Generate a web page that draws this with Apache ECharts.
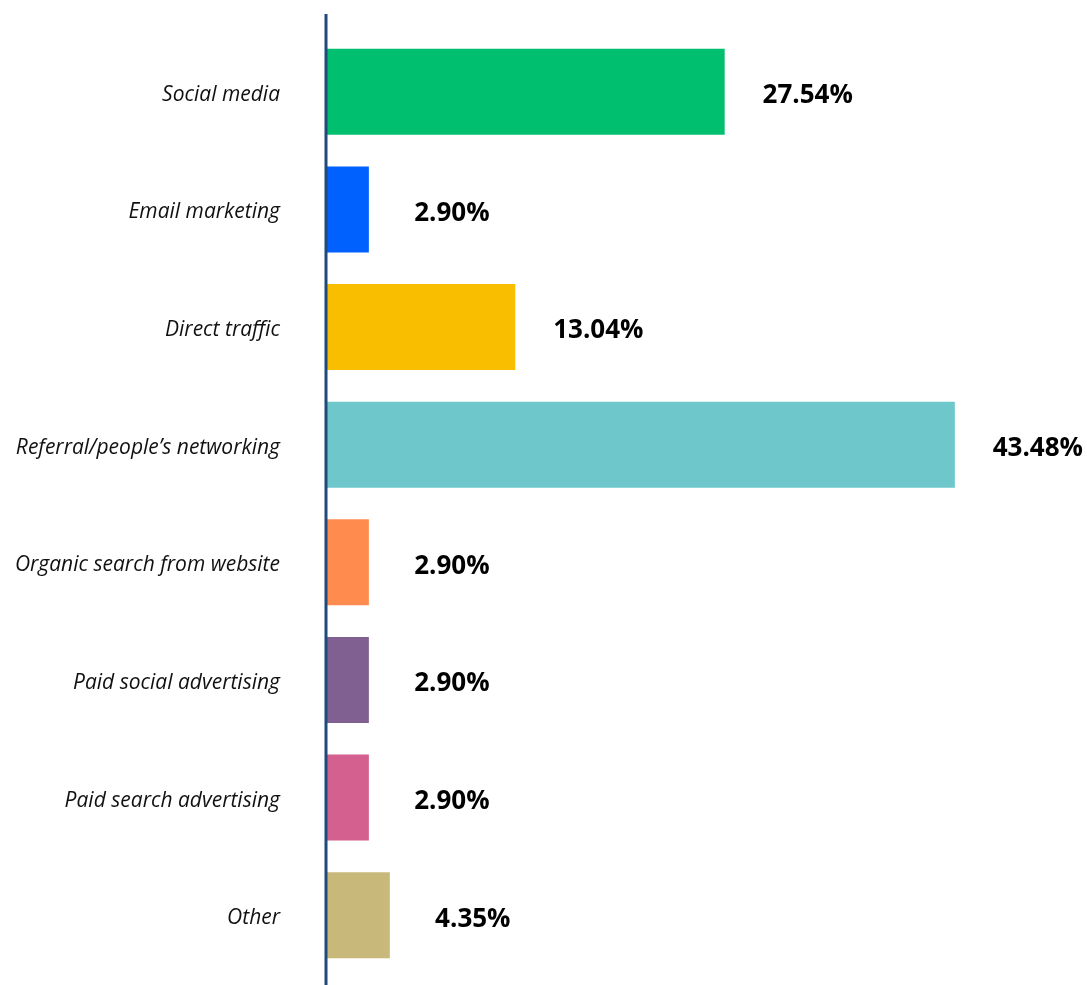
<!DOCTYPE html>
<html>
<head>
<meta charset="utf-8">
<title>Traffic sources</title>
<script src="https://cdn.jsdelivr.net/npm/echarts@6/dist/echarts.min.js"></script>
<style>
  html, body { margin: 0; padding: 0; background: #ffffff; }
  #chart { width: 1087px; height: 985px; }
</style>
</head>
<body>
<div id="chart"></div>
<script>
// Share of traffic by source (percent)
const categories = [
  'Social media',
  'Email marketing',
  'Direct traffic',
  'Referral/people\u2019s networking',
  'Organic search from website',
  'Paid social advertising',
  'Paid search advertising',
  'Other'
];
const values = [27.54, 2.90, 13.04, 43.48, 2.90, 2.90, 2.90, 4.35];
const barColors = ['#00BF6F', '#0061FF', '#F9BE00', '#6DC7CB', '#FF8B4F', '#7F6090', '#D4608F', '#C8B87A'];

const GRID_LEFT = 327;
const GRID_TOP = 33;
const GRID_BOTTOM = 11;
const GRID_RIGHT = 38;

const chart = echarts.init(document.getElementById('chart'), null, { renderer: 'canvas' });

chart.setOption({
  backgroundColor: '#ffffff',
  animation: false,
  grid: { left: GRID_LEFT, top: GRID_TOP, bottom: GRID_BOTTOM, right: GRID_RIGHT, containLabel: false },
  xAxis: {
    type: 'value',
    min: 0,
    max: 50,
    show: false
  },
  yAxis: {
    type: 'category',
    inverse: true,
    data: categories,
    axisLine: { show: false },
    axisTick: { show: false },
    splitLine: { show: false },
    axisLabel: {
      margin: 47,
      formatter: v => '{c|' + v + '}',
      rich: {
        c: {
          fontFamily: 'Open Sans',
          fontStyle: 'italic',
          fontSize: 21,
          color: '#111111',
          padding: [6, 0, 0, 0]
        }
      }
    }
  },
  series: [{
    type: 'bar',
    barWidth: 86,
    data: values.map((v, i) => ({ value: v, itemStyle: { color: barColors[i] } })),
    label: {
      show: true,
      position: ['100%', '50%'],
      offset: [83, 4],
      align: 'center',
      verticalAlign: 'middle',
      formatter: p => p.value.toFixed(2) + '%',
      fontFamily: 'Open Sans',
      fontWeight: 'bold',
      fontSize: 26,
      color: '#000000'
    }
  }],
  // vertical baseline running the full height of the plot
  graphic: [{
    type: 'line',
    z: 100,
    shape: { x1: GRID_LEFT - 1, y1: 14, x2: GRID_LEFT - 1, y2: 985 },
    style: { stroke: '#1F4A7A', lineWidth: 3 }
  }]
});
</script>
</body>
</html>
